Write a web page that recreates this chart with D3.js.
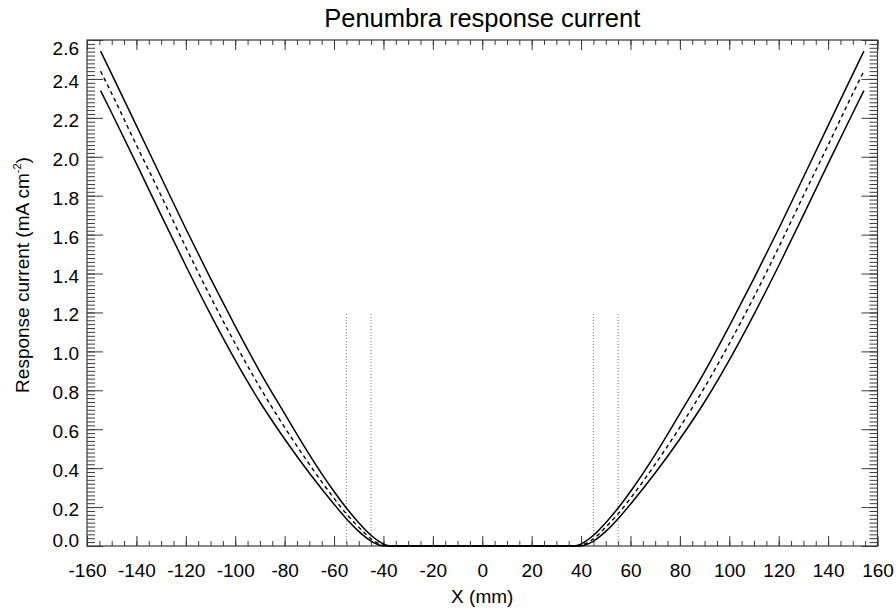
<!DOCTYPE html>
<html>
<head>
<meta charset="utf-8">
<script src="https://cdn.jsdelivr.net/npm/d3@7"></script>
<style>
  body { margin: 0; background: #fff; }
  svg { display: block; }
  text { font-family: "Liberation Sans", Arial, Helvetica, sans-serif; fill: #000; }
</style>
</head>
<body>
<svg id="chart" width="896" height="612"></svg>
<script>
// Lateral position across the beam (mm)
const xPositions = [-154.5, -150, -140, -130, -120, -110, -100, -90, -80, -70, -60, -55, -50, -45, -41, -37,
                    37, 41, 45, 50, 55, 60, 70, 80, 90, 100, 110, 120, 130, 140, 150, 154.5];
// Response current (mA cm^-2): upper bound, nominal, lower bound
const upperCurrent  = [2.543, 2.425, 2.16, 1.895, 1.63, 1.375, 1.13, 0.895, 0.68, 0.47, 0.28, 0.195, 0.12, 0.055, 0.017, 0,
                       0, 0.017, 0.055, 0.12, 0.195, 0.28, 0.47, 0.68, 0.895, 1.13, 1.375, 1.63, 1.895, 2.16, 2.425, 2.543];
const nominalCurrent = [2.44, 2.325, 2.06, 1.80, 1.535, 1.28, 1.04, 0.815, 0.61, 0.42, 0.245, 0.165, 0.097, 0.037, 0.008, 0,
                        0, 0.008, 0.037, 0.097, 0.165, 0.245, 0.42, 0.61, 0.815, 1.04, 1.28, 1.535, 1.80, 2.06, 2.325, 2.44];
const lowerCurrent  = [2.34, 2.225, 1.965, 1.70, 1.44, 1.19, 0.955, 0.74, 0.55, 0.375, 0.215, 0.14, 0.075, 0.025, 0.003, 0,
                       0, 0.003, 0.025, 0.075, 0.14, 0.215, 0.375, 0.55, 0.74, 0.955, 1.19, 1.44, 1.70, 1.965, 2.225, 2.34];

// Penumbra edge markers (mm) and their height
const edgeMarkers = [-55, -45, 45, 55];
const edgeMarkerTop = 1.2;

// Axis ticks and labels
const xTickValues = [-160, -140, -120, -100, -80, -60, -40, -20, 0, 20, 40, 60, 80, 100, 120, 140, 160];
const xTickLabels = ["-160", "-140", "-120", "-100", "-80", "-60", "-40", "-20", "0", "20", "40", "60", "80", "100", "120", "140", "160"];
const yTickValues = [0, 0.2, 0.4, 0.6, 0.8, 1.0, 1.2, 1.4, 1.6, 1.8, 2.0, 2.2, 2.4, 2.6];
const yTickLabels = ["0.0", "0.2", "0.4", "0.6", "0.8", "1.0", "1.2", "1.4", "1.6", "1.8", "2.0", "2.2", "2.4", "2.6"];

const svg = d3.select("#chart");
const plot = { left: 87, right: 877.5, top: 40, bottom: 546 };

const x = d3.scaleLinear().domain([-160, 160]).range([plot.left, plot.right]);
const y = d3.scaleLinear().domain([0, 2.6]).range([plot.bottom, plot.top]);

const xMinor = d3.range(-160, 160.001, 5);
const yMinor = d3.range(0, 131).map(i => i * 0.02);
const axisColor = "#3a3a3a";

function styleAxis(g) {
  g.select(".domain").remove();
  g.selectAll(".tick line").attr("stroke", axisColor).attr("stroke-width", 1);
}

// Bottom and top axes: inward ticks
svg.append("g").attr("transform", `translate(0,${plot.bottom})`)
  .call(d3.axisBottom(x).tickValues(xMinor).tickSize(-5).tickFormat("")).call(styleAxis);
svg.append("g").attr("transform", `translate(0,${plot.bottom})`)
  .call(d3.axisBottom(x).tickValues(xTickValues).tickSize(-10)
    .tickFormat((d, i) => xTickLabels[i]).tickPadding(18))
  .call(styleAxis)
  .call(g => g.selectAll("text").attr("font-size", 19).attr("fill", "#000")
    .style("font-family", '"Liberation Sans", Arial, sans-serif'));
svg.append("g").attr("transform", `translate(0,${plot.top})`)
  .call(d3.axisTop(x).tickValues(xMinor).tickSize(-5).tickFormat("")).call(styleAxis);
svg.append("g").attr("transform", `translate(0,${plot.top})`)
  .call(d3.axisTop(x).tickValues(xTickValues).tickSize(-10).tickFormat("")).call(styleAxis);

// Left and right axes: inward ticks
svg.append("g").attr("transform", `translate(${plot.left},0)`)
  .call(d3.axisLeft(y).tickValues(yMinor).tickSize(-8).tickFormat("")).call(styleAxis);
svg.append("g").attr("transform", `translate(${plot.left},0)`)
  .call(d3.axisLeft(y).tickValues(yTickValues).tickSize(-16).tickFormat("")).call(styleAxis);
svg.append("g").attr("transform", `translate(${plot.right},0)`)
  .call(d3.axisRight(y).tickValues(yMinor).tickSize(-8).tickFormat("")).call(styleAxis);
svg.append("g").attr("transform", `translate(${plot.right},0)`)
  .call(d3.axisRight(y).tickValues(yTickValues).tickSize(-16).tickFormat("")).call(styleAxis);

// Y tick labels (end labels pulled inside the frame)
svg.append("g").selectAll("text").data(yTickValues).join("text")
  .attr("x", 79)
  .attr("y", (d, i) => y(d) + (i === 0 ? 1 : i === yTickValues.length - 1 ? 15 : 9))
  .attr("text-anchor", "end")
  .attr("font-size", 19)
  .text((d, i) => yTickLabels[i]);

// Plot frame
svg.append("rect")
  .attr("x", plot.left).attr("y", plot.top)
  .attr("width", plot.right - plot.left).attr("height", plot.bottom - plot.top)
  .attr("fill", "none").attr("stroke", axisColor).attr("stroke-width", 1.2);

// Penumbra edge markers
svg.append("g").selectAll("line").data(edgeMarkers).join("line")
  .attr("x1", d => x(d)).attr("x2", d => x(d))
  .attr("y1", y(0)).attr("y2", y(edgeMarkerTop))
  .attr("stroke", "#777").attr("stroke-width", 1)
  .attr("stroke-dasharray", "1,2");

// Response curves
const line = d3.line()
  .x((d, i) => x(xPositions[i]))
  .y(d => y(d))
  .curve(d3.curveMonotoneX);

svg.append("path").datum(upperCurrent).attr("d", line)
  .attr("fill", "none").attr("stroke", "#000").attr("stroke-width", 1.5);
svg.append("path").datum(lowerCurrent).attr("d", line)
  .attr("fill", "none").attr("stroke", "#000").attr("stroke-width", 1.5);
svg.append("path").datum(nominalCurrent).attr("d", line)
  .attr("fill", "none").attr("stroke", "#000").attr("stroke-width", 1.4)
  .attr("stroke-dasharray", "4,3.5");

// Title and axis titles
svg.append("text")
  .attr("x", (plot.left + plot.right) / 2).attr("y", 27)
  .attr("text-anchor", "middle").attr("font-size", 25.5)
  .text("Penumbra response current");

svg.append("text")
  .attr("x", (plot.left + plot.right) / 2).attr("y", 603)
  .attr("text-anchor", "middle").attr("font-size", 19)
  .text("X (mm)");

const yTitle = svg.append("text")
  .attr("transform", "translate(29,275) rotate(-90)")
  .attr("text-anchor", "middle").attr("font-size", 19);
yTitle.append("tspan").text("Response current (mA cm");
yTitle.append("tspan").attr("font-size", 11).attr("dy", -8).text("-2");
yTitle.append("tspan").attr("dy", 8).text(")");
</script>
</body>
</html>
